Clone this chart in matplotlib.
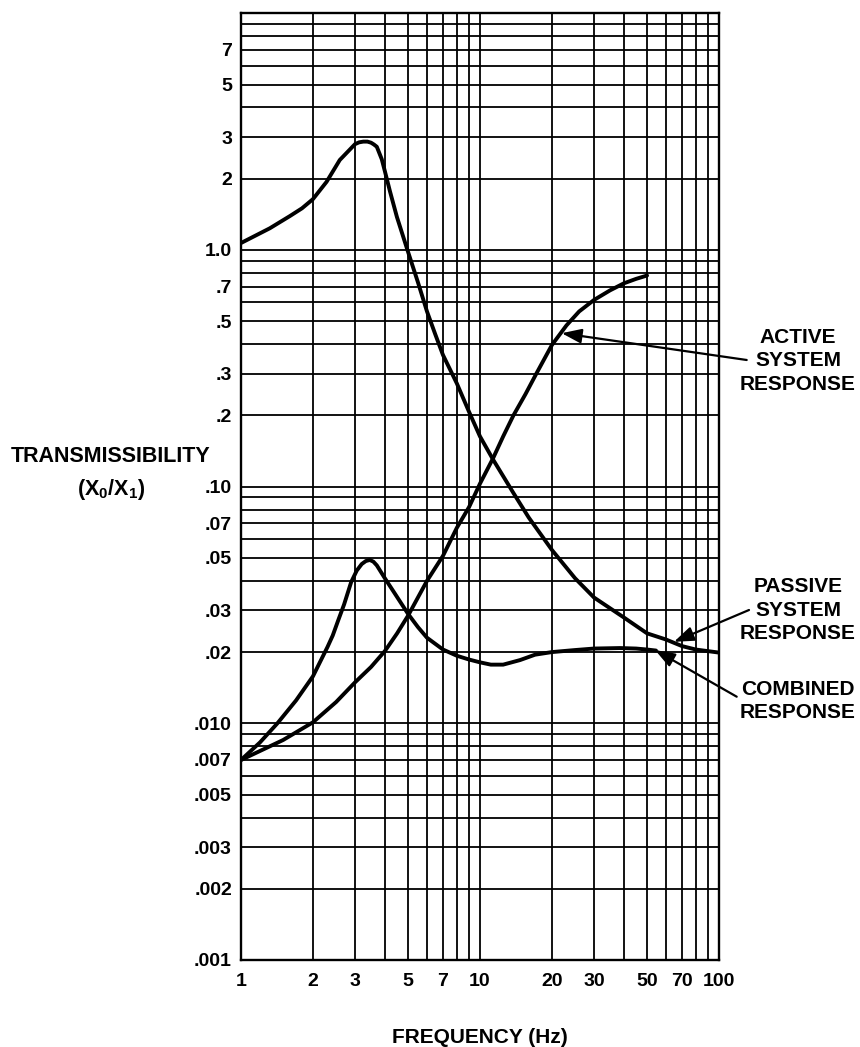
import numpy as np
import matplotlib
matplotlib.use("Agg")
import matplotlib.pyplot as plt
from matplotlib.ticker import FixedLocator, FixedFormatter, NullLocator

plt.rcParams["font.family"] = ["Liberation Sans", "DejaVu Sans"]
plt.rcParams["font.weight"] = "bold"
plt.rcParams["mathtext.fontset"] = "custom"
plt.rcParams["mathtext.rm"] = "Liberation Sans:bold"
plt.rcParams["mathtext.it"] = "Liberation Sans:bold"
plt.rcParams["mathtext.bf"] = "Liberation Sans:bold"
plt.rcParams["mathtext.default"] = "rm"

# ---- curves (freq Hz, transmissibility) ----
passive_f = [1, 1.32, 1.6, 1.8, 2, 2.28, 2.59, 3, 3.12, 3.25, 3.38, 3.5, 3.6, 3.7, 3.88, 4, 4.2,
             4.49, 4.97, 5.5, 6, 6.5, 7, 8, 9, 10, 11.35, 13.8, 16, 20, 25, 30, 40, 50, 60, 70, 80, 100]
passive_t = [1.07, 1.235, 1.39, 1.5, 1.64, 1.94, 2.40, 2.80, 2.85, 2.87, 2.87, 2.84, 2.79, 2.73,
             2.42, 2.15, 1.77, 1.38, 1.0, 0.73, 0.55, 0.44, 0.36, 0.273, 0.207, 0.163, 0.13, 0.094,
             0.074, 0.054, 0.041, 0.034, 0.028, 0.024, 0.0226, 0.0212, 0.0205, 0.0199]

active_f = [1, 1.5, 2, 2.5, 3, 3.5, 4, 4.5, 5, 6, 7, 8, 9, 10, 11.35, 12.5, 13.8, 15.5, 17.2,
            20, 23, 26, 30, 35, 40, 45, 50]
active_t = [0.007, 0.0085, 0.0101, 0.0123, 0.0149, 0.0173, 0.0202, 0.024, 0.0285, 0.040, 0.051,
            0.067, 0.082, 0.103, 0.132, 0.163, 0.200, 0.246, 0.300, 0.397, 0.48, 0.55, 0.615,
            0.675, 0.723, 0.755, 0.78]

combined_f = [1, 1.2, 1.42, 1.7, 2, 2.3, 2.42, 2.55, 2.7, 2.89, 3.05, 3.2, 3.33, 3.46, 3.58, 3.7,
              4, 4.39, 5, 5.5, 6, 7, 8, 9, 10, 11.1, 12.5, 14.7, 17, 20, 25, 30, 38.5, 45, 50, 54.5]
combined_t = [0.007, 0.0083, 0.01, 0.0125, 0.0158, 0.021, 0.0235, 0.0272, 0.0318, 0.0395, 0.0442,
              0.0471, 0.0485, 0.049, 0.0482, 0.0465, 0.041, 0.0355, 0.029, 0.0255, 0.023, 0.0205,
              0.0193, 0.0186, 0.0181, 0.0177, 0.0177, 0.0185, 0.0195, 0.020, 0.0204, 0.0207,
              0.0208, 0.0207, 0.0205, 0.0203]

# ---- grid / tick labels ----
x_grid = [1, 2, 3, 4, 5, 6, 7, 8, 9, 10, 20, 30, 40, 50, 60, 70, 80, 90, 100]
x_labels = ["1", "2", "3", "", "5", "", "7", "", "", "10", "20", "30", "", "50", "", "70", "", "", "100"]
y_grid = [m * 10.0 ** e for e in (-3, -2, -1, 0) for m in range(1, 10)] + [10]
y_labels = [".001", ".002", ".003", "", ".005", "", ".007", "", "",
            ".010", ".02", ".03", "", ".05", "", ".07", "", "",
            ".10", ".2", ".3", "", ".5", "", ".7", "", "",
            "1.0", "2", "3", "", "5", "", "7", "", "", ""]

W, H = 860, 1047
fig = plt.figure(figsize=(W / 100, H / 100), dpi=100)
ax = fig.add_axes([241 / W, 1 - 960 / H, (719 - 241) / W, (960 - 13.3) / H])
ax.set_xscale("log"); ax.set_yscale("log")
ax.set_xlim(1, 100); ax.set_ylim(0.001, 10)

ax.xaxis.set_major_locator(FixedLocator(x_grid)); ax.xaxis.set_major_formatter(FixedFormatter(x_labels))
ax.yaxis.set_major_locator(FixedLocator(y_grid)); ax.yaxis.set_major_formatter(FixedFormatter(y_labels))
ax.xaxis.set_minor_locator(NullLocator()); ax.yaxis.set_minor_locator(NullLocator())
ax.tick_params(axis="x", length=0, pad=9.0, labelsize=14)
ax.tick_params(axis="y", length=0, pad=6.5, labelsize=14)
ax.grid(True, which="major", color="black", lw=1.3)
for s in ax.spines.values():
    s.set_linewidth(1.7)

for f, t in ((passive_f, passive_t), (active_f, active_t), (combined_f, combined_t)):
    ax.plot(f, t, color="black", lw=2.8, solid_capstyle="round", solid_joinstyle="round", zorder=5)

# ---- callouts ----
aprops = dict(arrowstyle="-|>,head_length=0.6,head_width=0.22", color="black", lw=1.6,
              mutation_scale=20, shrinkA=0, shrinkB=0)
ax.annotate("", xy=(21.97, 0.445), xycoords="data", xytext=(746.7 / W, 1 - 360 / H),
            textcoords="figure fraction", arrowprops=aprops, annotation_clip=False)
ax.annotate("", xy=(64.8, 0.0221), xycoords="data", xytext=(749 / W, 1 - 610 / H),
            textcoords="figure fraction", arrowprops=aprops, annotation_clip=False)
ax.annotate("", xy=(54.0, 0.0204), xycoords="data", xytext=(736.7 / W, 1 - 696.7 / H),
            textcoords="figure fraction", arrowprops=aprops, annotation_clip=False)

tk = dict(ha="center", va="center", fontsize=15, fontweight="bold", linespacing=1.3)
fig.text(798 / W, 1 - 361 / H, "ACTIVE\nSYSTEM\nRESPONSE", **tk)
fig.text(798 / W, 1 - 610 / H, "PASSIVE\nSYSTEM\nRESPONSE", **tk)
fig.text(798 / W, 1 - 701 / H, "COMBINED\nRESPONSE", **tk)

fig.text(111 / W, 1 - 462.3 / H, "TRANSMISSIBILITY", ha="center", va="baseline", fontsize=15.5, fontweight="bold")
fig.text(111 / W, 1 - 495 / H, "(X$_0$/X$_1$)", ha="center", va="baseline", fontsize=15.5, fontweight="bold")
fig.text(480 / W, 1 - 1043 / H, "FREQUENCY (Hz)", ha="center", va="baseline", fontsize=15, fontweight="bold")

fig.savefig("out.png", dpi=100, facecolor="white")
